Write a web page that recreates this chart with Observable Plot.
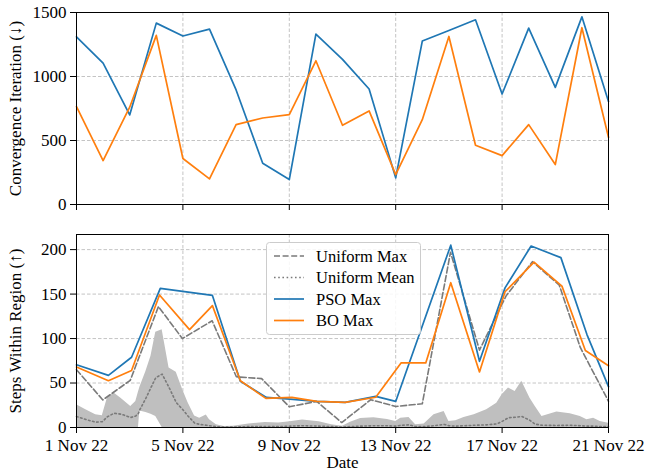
<!DOCTYPE html>
<html><head><meta charset="utf-8">
<script src="https://cdn.jsdelivr.net/npm/d3@7"></script>
<script src="https://cdn.jsdelivr.net/npm/@observablehq/plot@0.6"></script>
<style>
body{margin:0;background:#fff}
#wrap{position:relative;width:648px;height:471px;font-family:"Liberation Serif",serif}
#wrap > svg{display:block}
#wrap svg, #wrap svg text{font-family:"Liberation Serif",serif !important}
#legend{position:absolute;left:266px;top:242px}
</style>
</head><body><div id="wrap"></div>
<script>
// ---------- data ----------
const topDates = ["2022-11-01","2022-11-02","2022-11-03","2022-11-04","2022-11-05","2022-11-06","2022-11-07",
  "2022-11-08","2022-11-09","2022-11-10","2022-11-11","2022-11-12","2022-11-13","2022-11-14",
  "2022-11-15","2022-11-16","2022-11-17","2022-11-18","2022-11-19","2022-11-20","2022-11-21"];
const psoIter = [1310,1105,700,1417,1316,1370,895,322,195,1331,1134,902,208,1277,1360,1443,863,1378,915,1466,805];
const boIter  = [764,343,760,1321,359,200,624,676,702,1123,619,731,234,663,1313,463,382,624,312,1381,525];

// bottom panel: positions in days since 1 Nov 22
const psoDays  = [0,1.2,2.07,3.15,5.11,6.16,7.14,8.02,9.03,10.1,11.25,12.0,14.07,15.15,16.11,17.09,18.21,19.19,20.0];
const psoSteps = [70.5,58.6,79,156.4,148.5,51.9,33.8,32,29.3,28.2,35,29.3,205,74.4,157,204,191,104.5,46];

const boDays  = [0,1.2,2.07,3.12,4.25,5.11,6.16,7.12,8.1,9.03,10.1,11.25,12.2,13.13,14.07,15.15,16.11,17.2,18.25,19.13,20.0];
const boSteps = [68,52.6,64,149,110,137,52.6,32.7,33.8,29.3,28.2,34,72.6,72.6,162.8,62.4,152.6,186,159,86.5,69.5];

const uniDays = [0,0.99,2.02,3.08,3.98,5.1,6.01,6.96,8.0,9.03,9.97,11.06,12.0,13.0,14.06,15.15,16.15,17.14,18.15,18.94,20.0];
const uniMax  = [65,31,53,136,100,120,57,55,23.3,29.3,5.6,31.2,23.7,26.7,197,87,148,186.5,160,90,29.5];

const bandDays = [0,0.35,0.72,0.97,1.16,1.41,1.67,2.04,2.23,2.33,2.38,2.61,2.8,2.98,3.22,3.48,3.75,4.0,4.19,4.44,4.63,4.88,
  5.0,5.26,5.55,5.9,6.48,7.1,7.6,8.03,8.5,9.12,9.59,10.0,10.3,10.68,11.18,11.69,12.0,12.19,12.5,12.75,13.07,13.44,13.82,
  14.0,14.26,14.57,14.95,15.42,15.8,16.0,16.24,16.49,16.74,17.05,17.24,17.5,18.06,18.56,18.94,19.19,19.44,19.69,20.0];
const bandHigh = [25.6,20,14.3,13.2,33,38.7,33,23.7,29.3,40,45,63,80,107,110,67,62,42,28,13,10.5,14,
  8.6,3,1,1.5,4,5.5,5,6.4,8.3,6.4,3,1.5,6,10,11,9,6.8,10.5,11.3,3,3.8,14.3,18,
  6.8,7.5,11.3,14.3,20,27.4,36.8,44.4,40.6,51.9,33,24,12.4,17.3,15.4,12.4,8.6,10.5,6.8,4.9];
const bandLow = [0,0,0,0,0,0,0,0,0,0,18.5,17,14.8,12.5,0,0,0,0,0,0,0,0,
  0,0,0,0,0,0,0,0,0,0,0,0,0,0,0,0,0,0,0,0,0,0,0,
  0,0,0,0,0,0,0,0,0,0,0,0,0,0,0,0,0,0,0,0];
const uniMean = [12.4,9,6,6.5,12,16,15,11.3,13,16,20,33,45,56,60,45,28,20,13,5,3.5,2.5,
  2,1,0.5,0.5,1,1.2,1,1.5,2,1.5,1,0.5,1,1.5,2,2,1.5,2.5,3,1,1,2,3.5,
  2,1.5,2,2.5,3,4,6.8,11,11.5,12.4,8,3.8,2.5,2.3,2.5,2,1.5,1.5,1,1];

const xTickDates = ["2022-11-01","2022-11-05","2022-11-09","2022-11-13","2022-11-17","2022-11-21"];
const topYTicks = [0,500,1000,1500];
const bottomYTicks = [0,50,100,150,200];
const legendLabels = ["Uniform Max","Uniform Mean","PSO Max","BO Max"];

// ---------- helpers ----------
const parse = s => new Date(s + "T00:00:00Z");
const day0 = Date.UTC(2022,10,1);
const dayToDate = d => new Date(day0 + d*86400000);
const xTicks = xTickDates.map(parse);
const xDomain = [xTicks[0], xTicks[xTicks.length-1]];
const fmt = d3.utcFormat("%-d %b %y");
const numFmt = d => String(d);

const BLUE = "#1f77b4", ORANGE = "#ff7f0e", GREY = "#7a7a7a", BAND = "#bfbfbf", GRID = "#bdbdbd";
const style = {fontFamily: "Liberation Serif, serif", fontSize: "17px", color: "black", background: "white", overflow: "visible"};
const gridOpts = {stroke: GRID, strokeOpacity: 1, strokeWidth: 0.9, strokeDasharray: "3.5,2"};

const topData = topDates.map((s,i) => ({date: parse(s), pso: psoIter[i], bo: boIter[i]}));
const psoData = psoDays.map((d,i) => ({date: dayToDate(d), v: psoSteps[i]}));
const boData = boDays.map((d,i) => ({date: dayToDate(d), v: boSteps[i]}));
const uniData = uniDays.map((d,i) => ({date: dayToDate(d), v: uniMax[i]}));
const bandData = bandDays.map((d,i) => ({date: dayToDate(d), lo: bandLow[i], hi: bandHigh[i], mean: uniMean[i]}));

const topPlot = Plot.plot({
  width: 648, height: 215, marginLeft: 76, marginRight: 40, marginTop: 12, marginBottom: 11,
  style,
  x: {type: "utc", domain: xDomain},
  y: {domain: [0, 1500]},
  marks: [
    Plot.gridX({ticks: xTicks, ...gridOpts}),
    Plot.gridY({ticks: topYTicks, ...gridOpts}),
    Plot.lineY(topData, {x: "date", y: "pso", stroke: BLUE, strokeWidth: 1.7}),
    Plot.lineY(topData, {x: "date", y: "bo", stroke: ORANGE, strokeWidth: 1.7}),
    Plot.frame({stroke: "black", strokeWidth: 1}),
    Plot.axisX({ticks: xTicks, tickFormat: () => "", tickSize: 6, label: null}),
    Plot.axisY({ticks: topYTicks, tickFormat: numFmt, tickSize: 6, tickPadding: 4, label: "Convergence Iteration (↓)",
      labelAnchor: "center", labelArrow: "none", labelOffset: 68})
  ]
});

const bottomPlot = Plot.plot({
  width: 648, height: 256, marginLeft: 76, marginRight: 40, marginTop: 19, marginBottom: 44,
  style,
  x: {type: "utc", domain: xDomain},
  y: {domain: [0, 217]},
  marks: [
    Plot.gridX({ticks: xTicks, ...gridOpts}),
    Plot.gridY({ticks: bottomYTicks, ...gridOpts}),
    Plot.areaY(bandData, {x: "date", y1: "lo", y2: "hi", fill: BAND}),
    Plot.lineY(bandData, {x: "date", y: "mean", stroke: GREY, strokeWidth: 1.6, strokeDasharray: "1.6,2.6"}),
    Plot.lineY(uniData, {x: "date", y: "v", stroke: GREY, strokeWidth: 1.6, strokeDasharray: "6,2.6"}),
    Plot.lineY(psoData, {x: "date", y: "v", stroke: BLUE, strokeWidth: 1.7}),
    Plot.lineY(boData, {x: "date", y: "v", stroke: ORANGE, strokeWidth: 1.7}),
    Plot.frame({stroke: "black", strokeWidth: 1}),
    Plot.axisX({ticks: xTicks, tickFormat: fmt, tickSize: 6, tickPadding: 5, label: "Date",
      labelAnchor: "center", labelArrow: "none", labelOffset: 40}),
    Plot.axisY({ticks: bottomYTicks, tickFormat: numFmt, tickSize: 6, tickPadding: 4, label: "Steps Within Region (↑)",
      labelAnchor: "center", labelArrow: "none", labelOffset: 68})
  ]
});

const wrap = document.getElementById("wrap");
wrap.appendChild(topPlot);
wrap.appendChild(bottomPlot);

// legend
const lg = d3.select(wrap).append("svg").attr("id","legend").attr("width",156).attr("height",94)
  .style("font-size","16.5px");
lg.append("rect").attr("x",0.5).attr("y",0.5).attr("width",154).attr("height",92).attr("rx",3)
  .attr("fill","white").attr("fill-opacity",0.85).attr("stroke","#cccccc");
const legendStyles = [
  {stroke: GREY, dash: "6,2.6"},
  {stroke: GREY, dash: "1.6,2.6"},
  {stroke: BLUE, dash: null},
  {stroke: ORANGE, dash: null}
];
legendLabels.forEach((t,i) => {
  const cy = 14 + i*21.5;
  lg.append("line").attr("x1",8).attr("x2",38).attr("y1",cy).attr("y2",cy)
    .attr("stroke",legendStyles[i].stroke).attr("stroke-width",legendStyles[i].stroke===GREY?1.6:1.7)
    .attr("stroke-dasharray",legendStyles[i].dash);
  lg.append("text").attr("x",50).attr("y",cy).attr("dy","0.35em").attr("fill","black").text(t);
});
</script></body></html>
